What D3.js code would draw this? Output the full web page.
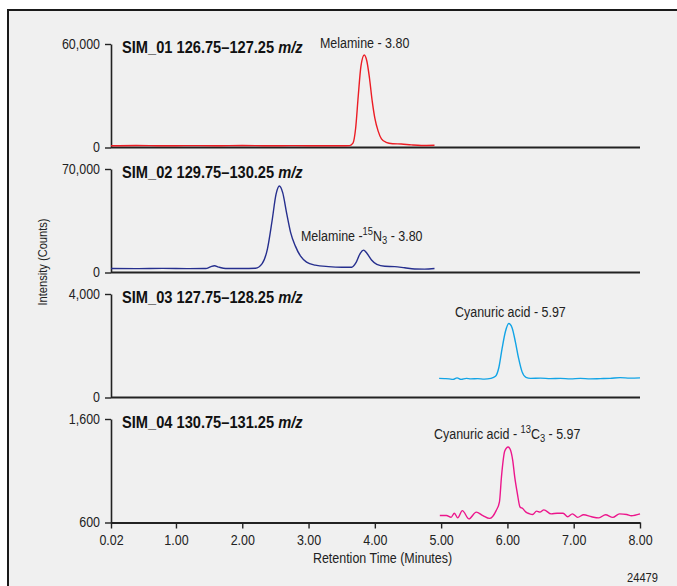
<!DOCTYPE html>
<html>
<head>
<meta charset="UTF-8">
<title>SIM chromatograms</title>
<style>
    body {
        margin: 0;
        background: #ffffff;
    }
    /* condensed look: Liberation Sans squeezed horizontally */
    text {
        font-family: "Liberation Sans", Arial, sans-serif;
        fill: #222;
        transform-box: fill-box;
        transform: scaleX(0.89);
        transform-origin: left center;
    }
    .tick text {
        font-size: 14px;
    }
    .y.axis .tick text {
        transform-origin: right center;
    }
    .x.axis .tick text,
    text.mid {
        transform-origin: center center;
    }
    .label {
        font-size: 14px;
    }
    .title {
        font-size: 16px;
        font-weight: bold;
        fill: #111;
        transform: scaleX(0.915);
    }
</style>
</head>
<body>
<script src="https://d3js.org/d3.v7.min.js"></script>
<script>

    // retention time ticks shared by every panel
    var timeTicks = [0.02, 1, 2, 3, 4, 5, 6, 7, 8];

    // SIM_01 126.75-127.25 m/z (melamine)
    var sim01 = [
        [0.02, 1000], [0.4, 1200], [0.8, 1000], [1.2, 1100], [1.6, 1000], [2.0, 1200],
        [2.4, 1000], [2.8, 1100], [3.2, 1000], [3.5, 1000], [3.62, 1100], [3.67, 2500],
        [3.71, 11000], [3.75, 30000], [3.79, 47000], [3.84, 53600], [3.88, 50000],
        [3.92, 40000], [3.96, 27000], [4.0, 17000], [4.05, 9500], [4.1, 5000],
        [4.17, 3000], [4.27, 2200], [4.4, 2000], [4.55, 1500], [4.7, 1200], [4.9, 1300]
    ];

    // SIM_02 129.75-130.25 m/z (melamine 15N3)
    var sim02 = [
        [0.02, 2700], [0.4, 2600], [0.8, 2800], [1.2, 2600], [1.45, 2700], [1.52, 3800],
        [1.58, 4600], [1.65, 3600], [1.75, 2700], [2.0, 2700], [2.2, 2900], [2.3, 6000],
        [2.38, 16000], [2.45, 35000], [2.51, 53000], [2.56, 58500], [2.61, 54000],
        [2.67, 40000], [2.73, 27000], [2.8, 18000], [2.88, 11000], [2.97, 7000],
        [3.1, 5000], [3.3, 4000], [3.5, 3600], [3.65, 3600], [3.72, 7000], [3.78, 13000],
        [3.83, 15100], [3.88, 13000], [3.95, 8500], [4.03, 5500], [4.15, 4200],
        [4.3, 4000], [4.45, 3200], [4.6, 2400], [4.75, 2300], [4.9, 2700]
    ];

    // SIM_03 127.75-128.25 m/z (cyanuric acid)
    var sim03 = [
        [4.97, 740], [5.05, 730], [5.12, 720], [5.18, 700], [5.24, 760], [5.3, 700],
        [5.38, 740], [5.45, 720], [5.55, 730], [5.65, 710], [5.75, 740], [5.82, 820],
        [5.87, 1150], [5.92, 1900], [5.97, 2550], [6.02, 2860], [6.07, 2700],
        [6.12, 2150], [6.17, 1500], [6.22, 1000], [6.28, 780], [6.35, 740], [6.5, 750],
        [6.65, 730], [6.8, 740], [6.95, 720], [7.1, 740], [7.25, 720], [7.4, 730],
        [7.55, 740], [7.7, 770], [7.85, 750], [8.0, 760]
    ];

    // SIM_04 130.75-131.25 m/z (cyanuric acid 13C3)
    var sim04 = [
        [4.98, 667], [5.08, 667], [5.15, 650], [5.2, 690], [5.25, 645], [5.32, 715],
        [5.42, 635], [5.53, 700], [5.63, 667], [5.73, 640], [5.83, 715], [5.88, 800],
        [5.91, 1040], [5.96, 1290], [6.01, 1330], [6.04, 1310], [6.08, 1200],
        [6.11, 1040], [6.15, 880], [6.19, 750], [6.23, 735], [6.28, 700], [6.33, 685],
        [6.38, 677], [6.44, 710], [6.49, 700], [6.55, 722], [6.66, 683], [6.75, 690],
        [6.84, 690], [6.91, 655], [6.98, 683], [7.06, 650], [7.15, 675], [7.27, 655],
        [7.38, 645], [7.48, 675], [7.59, 650], [7.69, 683], [7.8, 677], [7.87, 665],
        [8.0, 683]
    ];

    var panels = [
        { name: "SIM_01", range: "126.75\u2013127.25", data: sim01, domain: [0, 60000], color: "#ec1c24" },
        { name: "SIM_02", range: "129.75\u2013130.25", data: sim02, domain: [0, 70000], color: "#262f8e" },
        { name: "SIM_03", range: "127.75\u2013128.25", data: sim03, domain: [0, 4000], color: "#12a4e6" },
        { name: "SIM_04", range: "130.75\u2013131.25", data: sim04, domain: [600, 1600], color: "#ec168c" }
    ];

    var width = 677,
        height = 586,
        left = 111,
        right = 640,
        firstTop = 44,
        panelH = 103.5,
        step = 125;

    var svg = d3.select("body")
        .append("svg")
        .attr("width", width)
        .attr("height", height);

    // frame
    svg.append("rect")
        .attr("x", 8)
        .attr("y", 10)
        .attr("width", 720)
        .attr("height", 620)
        .style("fill", "#f0f0f0")
        .style("stroke", "#1a1a1a")
        .style("stroke-width", 2);

    var x = d3.scaleLinear().domain([0.02, 8]).range([left, right]);

    panels.forEach(function(p, i) {
        var top = firstTop + i * step,
            bottom = top + panelH;

        var y = d3.scaleLinear().domain(p.domain).range([bottom, top]);

        var g = svg.append("g");

        // y axis with only min / max labels
        var yAxis = g.append("g")
            .attr("class", "y axis")
            .attr("transform", "translate(" + left + ",0)")
            .call(d3.axisLeft(y)
                .tickValues(p.domain)
                .tickSize(6)
                .tickSizeOuter(0)
                .tickPadding(5)
                .tickFormat(d3.format(",")));
        yAxis.attr("font-family", null).attr("font-size", null);
        yAxis.select(".domain").style("stroke", "#222").style("stroke-width", 1.6);
        yAxis.selectAll(".tick line").style("stroke", "#222").style("stroke-width", 1.4);

        // baseline / time axis
        if (i < 3) {
            g.append("line")
                .attr("x1", left)
                .attr("x2", right)
                .attr("y1", bottom)
                .attr("y2", bottom)
                .style("stroke", "#222")
                .style("stroke-width", 2);
        } else {
            var xAxis = g.append("g")
                .attr("class", "x axis")
                .attr("transform", "translate(0," + bottom + ")")
                .call(d3.axisBottom(x)
                    .tickValues(timeTicks)
                    .tickSize(6)
                    .tickSizeOuter(0)
                    .tickPadding(7)
                    .tickFormat(d3.format(".2f")));
            xAxis.attr("font-family", null).attr("font-size", null);
            xAxis.select(".domain").style("stroke", "#222").style("stroke-width", 2);
            xAxis.selectAll(".tick line").style("stroke", "#222").style("stroke-width", 1.4);
        }

        // trace
        var line = d3.line()
            .x(function(d) { return x(d[0]); })
            .y(function(d) { return y(d[1]); })
            .curve(d3.curveMonotoneX);

        g.append("path")
            .datum(p.data)
            .attr("d", line)
            .style("fill", "none")
            .style("stroke", p.color)
            .style("stroke-width", 1.4);

        // panel title
        var t = g.append("text")
            .attr("class", "title")
            .attr("x", left + 11)
            .attr("y", top + 9.5);
        t.append("tspan").text(p.name + " " + p.range + " ");
        t.append("tspan").style("font-style", "italic").text("m/z");
    });

    // peak labels, with isotope super/subscripts
    function peakLabel(px, py, parts) {
        var t = svg.append("text").attr("class", "label").attr("x", px).attr("y", py);
        parts.forEach(function(s) {
            var ts = t.append("tspan").text(s.text);
            if (s.sup) ts.attr("dy", -6).style("font-size", "10.5px");
            if (s.base) ts.attr("dy", 6);
            if (s.sub) ts.attr("dy", 3).style("font-size", "10.5px");
            if (s.back) ts.attr("dy", -3);
        });
    }

    peakLabel(320, 48.5, [{ text: "Melamine - 3.80" }]);
    peakLabel(301, 241, [
        { text: "Melamine -" },
        { text: "15", sup: true },
        { text: "N", base: true },
        { text: "3", sub: true },
        { text: " - 3.80", back: true }
    ]);
    peakLabel(455, 317, [{ text: "Cyanuric acid - 5.97" }]);
    peakLabel(434, 439, [
        { text: "Cyanuric acid - " },
        { text: "13", sup: true },
        { text: "C", base: true },
        { text: "3", sub: true },
        { text: " - 5.97", back: true }
    ]);

    // axis titles
    svg.append("text")
        .attr("class", "label mid")
        .attr("text-anchor", "middle")
        .attr("x", 382.5)
        .attr("y", 563)
        .text("Retention Time (Minutes)");

    svg.append("g")
        .attr("transform", "translate(47,262) rotate(-90)")
        .append("text")
        .attr("class", "label mid")
        .style("font-size", "12.5px")
        .attr("text-anchor", "middle")
        .text("Intensity (Counts)");

    svg.append("text")
        .attr("class", "label mid")
        .style("font-size", "12.5px")
        .attr("text-anchor", "middle")
        .attr("x", 642.5)
        .attr("y", 582)
        .text("24479");

</script>
</body>
</html>
